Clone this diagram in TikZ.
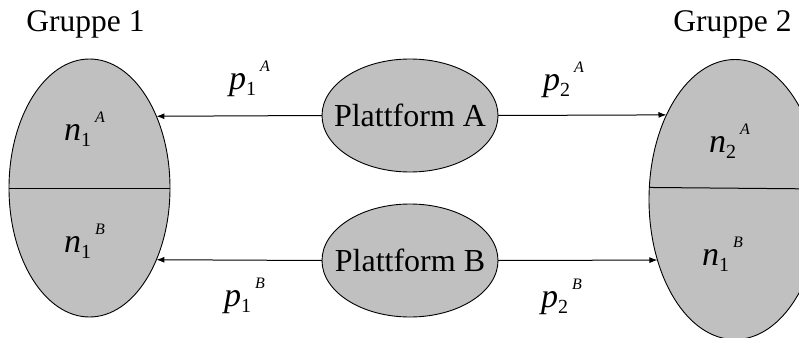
\documentclass[tikz,border=0pt]{standalone}
\usepackage{fontspec}
\setmainfont{Liberation Serif}
\usetikzlibrary{shapes.geometric,arrows.meta}
\definecolor{boxgray}{HTML}{C0C0C0}
\newcommand{\varlab}[3]{{\fontsize{34}{34}\selectfont\textit{#1}\raisebox{-6pt}{\fontsize{20}{20}\selectfont #2}\hspace{4pt}\raisebox{18pt}{\fontsize{16}{16}\selectfont\textit{#3}}}}
\newcommand{\zw}[1]{\makebox[0pt]{#1}}
\tikzset{
  blob/.style={ellipse, draw=black, line width=0.9pt, fill=boxgray, inner sep=0pt, outer sep=0pt},
  grp/.style={font=\fontsize{31.5}{31.5}\selectfont, anchor=base, inner sep=0pt},
  plat/.style={blob, minimum width=176pt, minimum height=113pt, font=\fontsize{32}{32}\selectfont},
  vlab/.style={anchor=base west, inner sep=0pt},
  flow/.style={line width=1pt, -{Latex[length=8pt,width=6pt]}},
  divider/.style={line width=1pt}
}
\begin{document}
\begin{tikzpicture}[x=1pt,y=-1pt]
\useasboundingbox (0,0) rectangle (799,337);
% group ellipses
\node[blob, minimum width=161pt, minimum height=258pt] (g1) at (89.5,188) {};
\node[blob, minimum width=172pt, minimum height=280pt] (g2) at (735,199.5) {};
\draw[divider] (g1.west) -- (g1.east);
\draw[divider] (g2.172.36) -- (g2.7.64);
% platforms
\node[plat] (pa) at (410,115.5) {\zw{Plattform A}};
\node[plat] (pb) at (410,260.5) {\zw{Plattform B}};
% titles
\node[grp] (t1) at (85.5,32) {Gruppe 1};
\node[grp] (t2) at (732.5,32) {Gruppe 2};
% labels in groups
\node[vlab] (n1a) at (64,140) {\varlab{n}{1}{A}};
\node[vlab] (n1b) at (64,252) {\varlab{n}{1}{B}};
\node[vlab] (n2a) at (709,152) {\varlab{n}{2}{A}};
\node[vlab] (n1br) at (702,265) {\varlab{n}{1}{B}};
% arrows
\draw[flow] (pa.west) -- (g1.47.43);
\draw[flow] (pa.east) -- (g2.129.3);
\draw[flow] (pb.west) -- (g1.-47.43);
\draw[flow] (pb.east) -- (g2.218.2);
% arrow labels
\node[vlab] (p1a) at (229,89) {\varlab{p}{1}{A}};
\node[vlab] (p2a) at (543,90) {\varlab{p}{2}{A}};
\node[vlab] (p1b) at (224,306) {\varlab{p}{1}{B}};
\node[vlab] (p2b) at (541,307) {\varlab{p}{2}{B}};
\end{tikzpicture}
\end{document}
